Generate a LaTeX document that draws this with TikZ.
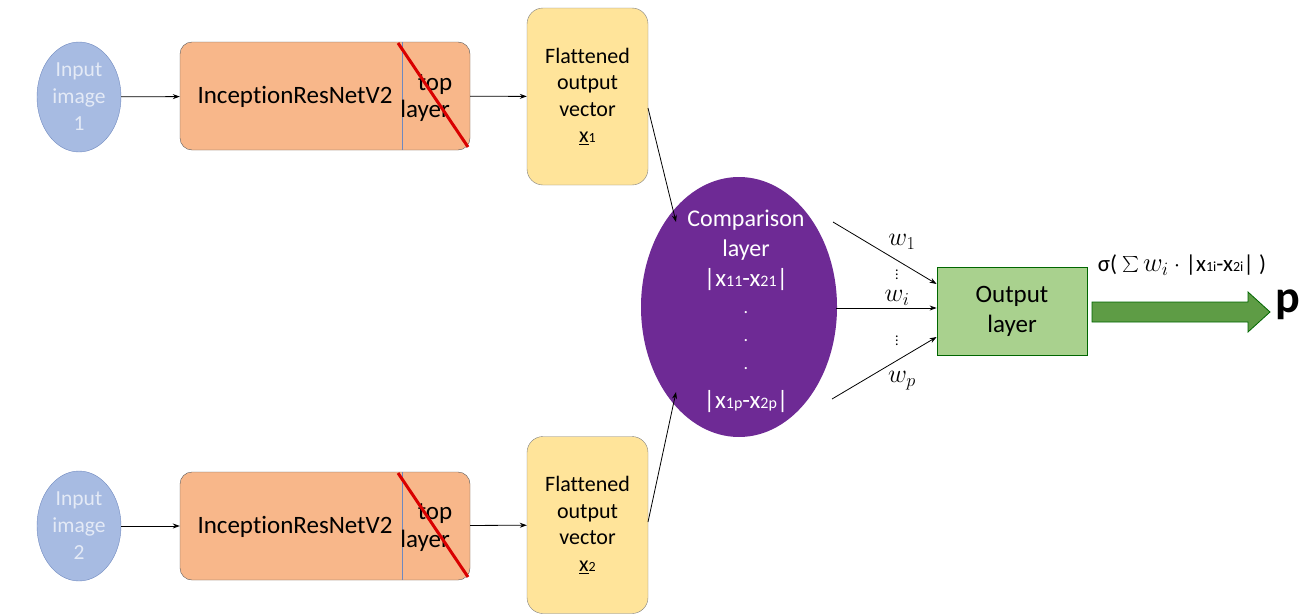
\RequirePackage{fix-cm}
\documentclass[tikz,border=0pt]{standalone}
\usepackage{graphicx}
\usepackage{fontspec}
\setmainfont[Ligatures=NoCommon]{Carlito}
\usetikzlibrary{shapes.geometric,shapes.arrows,arrows.meta}
\definecolor{inblue}{HTML}{A7BBE2}
\definecolor{inborder}{HTML}{6F89BF}
\definecolor{intext}{HTML}{E4EAF6}
\definecolor{peach}{HTML}{F8B78A}
\definecolor{ylw}{HTML}{FFE49A}
\definecolor{purp}{HTML}{6E2A95}
\definecolor{lgreen}{HTML}{A9D18E}
\definecolor{dgreen}{HTML}{5E9C45}
\tikzset{
  inputc/.style={ellipse, draw=inborder, fill=inblue, text=intext, minimum width=84pt, minimum height=110pt, inner sep=0pt, align=center, font=\fontsize{21.5}{27}\selectfont},
  incbox/.style={draw=black!65, fill=peach, rounded corners=12pt, minimum width=290pt, minimum height=108pt, inner sep=0pt},
  flatbox/.style={draw=black!50, fill=ylw, rounded corners=16pt, minimum width=121pt, minimum height=177pt, inner sep=0pt, align=center, font=\fontsize{22}{26.5}\selectfont},
  lbl/.style={inner sep=0pt, font=\fontsize{25}{28}\selectfont},
  conn/.style={-{Stealth[length=7pt,width=5pt]}, line width=0.8pt},
  wlbl/.style={inner sep=0pt, font=\fontsize{26}{28}\selectfont},
  vdlbl/.style={inner sep=0pt, font=\fontsize{14}{14}\selectfont},
}
\begin{document}
\begin{tikzpicture}[x=1pt,y=-1pt]
\useasboundingbox (0,0) rectangle (1311,613);
% top branch
\node[inputc] (in1) at (79,97) {Input\\image\\1};
\node[incbox] (inc1) at (325,96) {};
\draw[draw=inborder, line width=0.6pt] (402,42) -- (402,150);
\node[lbl] (t1) at (295,97) {InceptionResNetV2};
\node[lbl] (tp1) at (435,85) {top};
\node[lbl] (ly1) at (425,111) {layer};
\draw[red!85!black, line width=3pt] (398,43) -- (468,147);
\node[flatbox] (f1) at (587.5,96.5) {Flattened\\output\\vector\\\underline{x}{\fontsize{14}{14}\selectfont 1}};
% bottom branch
\node[inputc] (in2) at (79,526) {Input\\image\\2};
\node[incbox] (inc2) at (325,526) {};
\draw[draw=inborder, line width=0.6pt] (402,472) -- (402,580);
\node[lbl] (t2) at (295,527) {InceptionResNetV2};
\node[lbl] (tp2) at (435,514) {top};
\node[lbl] (ly2) at (425,541) {layer};
\draw[red!85!black, line width=3pt] (398,473) -- (468,577);
\node[flatbox] (f2) at (587.5,525) {Flattened\\output\\vector\\\underline{x}{\fontsize{14}{14}\selectfont 2}};
% comparison
\node[ellipse, fill=purp, minimum width=196pt, minimum height=260pt, inner sep=0pt] (cmp) at (739,307) {};
\node[lbl, text=white, align=center, font=\fontsize{24}{30}\selectfont] (cmpt) at (746,235) {Comparison\\layer};
\node[lbl, text=white] (d1) at (746,280) {|x{\fontsize{16}{16}\selectfont 11}-x{\fontsize{16}{16}\selectfont 21}|};
\node[lbl, text=white, font=\fontsize{18}{18}\selectfont] (dot1) at (746,313) {.};
\node[lbl, text=white, font=\fontsize{18}{18}\selectfont] (dot2) at (746,341) {.};
\node[lbl, text=white, font=\fontsize{18}{18}\selectfont] (dot3) at (746,369) {.};
\node[lbl, text=white] (dp) at (746,402) {|x{\fontsize{16}{16}\selectfont 1p}-x{\fontsize{16}{16}\selectfont 2p}|};
% output
\node[draw=black!60!green, fill=lgreen, minimum width=150pt, minimum height=88pt, inner sep=0pt, align=center, font=\fontsize{25}{30}\selectfont, line width=0.8pt] (out) at (1012,311) {Output\\layer};
% connectors
\draw[conn] (in1) -- (inc1);
\draw[conn] (inc1) -- (f1);
\draw[conn] (in2) -- (inc2);
\draw[conn] (inc2) -- (f2);
\coordinate (f1e) at (648,108);
\coordinate (c1e) at (676,222);
\coordinate (f2e) at (648,522);
\coordinate (c2e) at (676,392);
\draw[conn] (f1e) -- (c1e);
\draw[conn] (f2e) -- (c2e);
\coordinate (a1) at (833,222);
\coordinate (ai) at (836,308);
\coordinate (ap) at (832,399);
\draw[conn] (a1) -- (out.west |- 0,284);
\draw[conn] (ai) -- (out.west |- 0,308);
\draw[conn] (ap) -- (out.west |- 0,337);
\node[wlbl] (w1) at (902,242) {$w_1$};
\node[vdlbl] (wd1) at (897,272) {$\vdots$};
\node[wlbl] (wi) at (897,298) {$w_i$};
\node[vdlbl] (wd2) at (897,338) {$\vdots$};
\node[wlbl] (wp) at (902,381) {$w_p$};
\node[lbl, font=\fontsize{23}{26}\selectfont] (form) at (1182,265) {σ( \raisebox{-2pt}{\scalebox{1.6}{$\sum$}}\,{\fontsize{27}{28}\selectfont$w_i$} $\cdot$ |x{\fontsize{14}{14}\selectfont 1i}-x{\fontsize{14}{14}\selectfont 2i}| )};
\draw[draw=black!60!green, fill=dgreen, line width=0.8pt] (1092,302) -- (1248,302) -- (1248,292) -- (1270,312) -- (1248,332) -- (1248,322) -- (1092,322) -- cycle;
\node[lbl, font=\bfseries\fontsize{46}{46}\selectfont] (p) at (1288,305) {p};
\end{tikzpicture}
\end{document}
